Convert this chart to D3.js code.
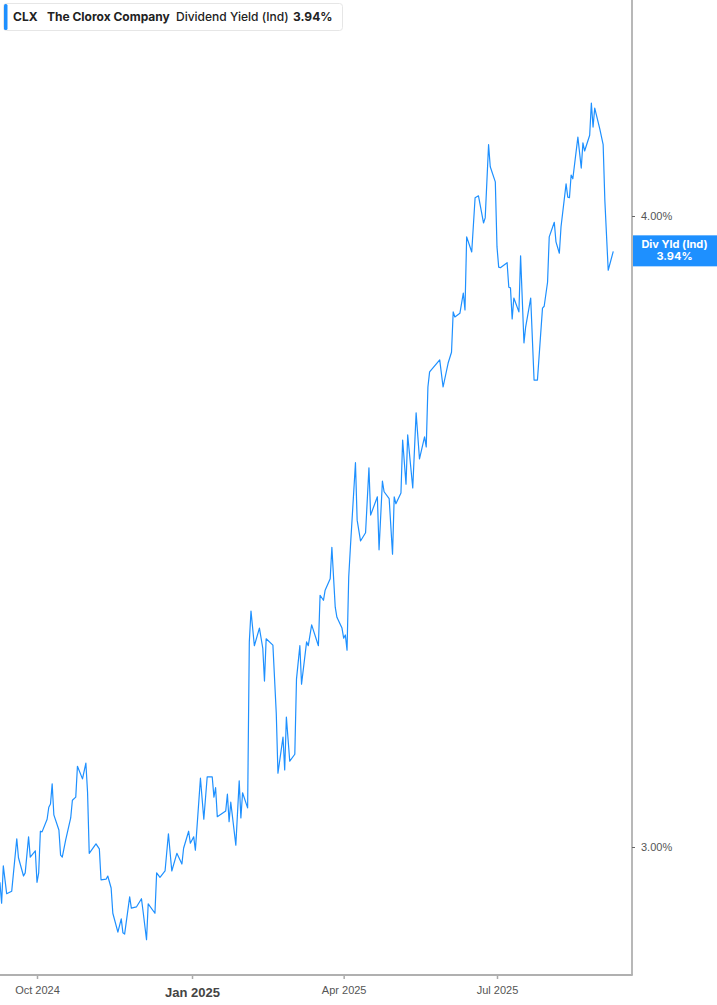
<!DOCTYPE html>
<html>
<head>
<meta charset="utf-8">
<script src="https://cdn.jsdelivr.net/npm/d3@7"></script>
<style>
  html, body { margin: 0; padding: 0; background: #fff; }
  svg { display: block; font-family: Inter, "Noto Sans", sans-serif; }
</style>
</head>
<body>
<div id="chart-container"></div>
<script>
// Dividend yield (Ind), CLX, daily closes
const dates = [
  "2024-09-09","2024-09-10","2024-09-11","2024-09-13","2024-09-16","2024-09-19","2024-09-20","2024-09-23","2024-09-24","2024-09-26","2024-09-27","2024-09-30",
  "2024-10-01","2024-10-02","2024-10-03","2024-10-04","2024-10-07","2024-10-08","2024-10-09","2024-10-10","2024-10-11","2024-10-14","2024-10-15","2024-10-16",
  "2024-10-18","2024-10-21","2024-10-22","2024-10-24","2024-10-25","2024-10-28","2024-10-30","2024-10-31","2024-11-01","2024-11-05","2024-11-07","2024-11-08",
  "2024-11-11","2024-11-12","2024-11-14","2024-11-15","2024-11-18","2024-11-20","2024-11-21","2024-11-22","2024-11-25","2024-11-26","2024-11-29","2024-12-02",
  "2024-12-03","2024-12-05","2024-12-06","2024-12-10","2024-12-11","2024-12-13","2024-12-16","2024-12-18","2024-12-20","2024-12-23","2024-12-26","2024-12-27",
  "2024-12-30","2024-12-31","2025-01-02","2025-01-03","2025-01-06","2025-01-08","2025-01-10","2025-01-13","2025-01-14","2025-01-15","2025-01-16","2025-01-21",
  "2025-01-22","2025-01-23","2025-01-24","2025-01-27","2025-01-29","2025-01-30","2025-01-31","2025-02-03","2025-02-04","2025-02-05","2025-02-07","2025-02-10",
  "2025-02-12","2025-02-13","2025-02-14","2025-02-18","2025-02-20","2025-02-21","2025-02-24","2025-02-25","2025-02-26","2025-02-28","2025-03-03","2025-03-04",
  "2025-03-06","2025-03-07","2025-03-10","2025-03-11","2025-03-13","2025-03-17","2025-03-18","2025-03-20","2025-03-21","2025-03-24","2025-03-25","2025-03-27",
  "2025-03-28","2025-03-31","2025-04-01","2025-04-02","2025-04-03","2025-04-04","2025-04-05","2025-04-08","2025-04-09","2025-04-11","2025-04-14","2025-04-16",
  "2025-04-17","2025-04-21","2025-04-22","2025-04-24","2025-04-25","2025-04-28","2025-04-30","2025-05-01","2025-05-02","2025-05-05","2025-05-06","2025-05-08",
  "2025-05-09","2025-05-12","2025-05-14","2025-05-16","2025-05-19","2025-05-20","2025-05-21","2025-05-22","2025-05-28","2025-05-30","2025-06-02","2025-06-04",
  "2025-06-05","2025-06-06","2025-06-09","2025-06-11","2025-06-12","2025-06-13","2025-06-16","2025-06-18","2025-06-20","2025-06-23","2025-06-24","2025-06-26",
  "2025-06-27","2025-06-30","2025-07-01","2025-07-02","2025-07-03","2025-07-07","2025-07-08","2025-07-09","2025-07-10","2025-07-11","2025-07-14","2025-07-15",
  "2025-07-17","2025-07-18","2025-07-21","2025-07-23","2025-07-25","2025-07-28","2025-07-29","2025-07-31","2025-08-01","2025-08-04","2025-08-05","2025-08-07",
  "2025-08-08","2025-08-11","2025-08-12","2025-08-13","2025-08-14","2025-08-15","2025-08-18","2025-08-20","2025-08-21","2025-08-22","2025-08-25","2025-08-26",
  "2025-08-27","2025-08-28","2025-08-31","2025-09-02","2025-09-03","2025-09-05","2025-09-08"
];

const yieldValues = [
  2.944,2.911,2.970,2.926,2.930,3.013,2.983,2.954,2.959,3.016,2.984,2.994,
  2.944,2.959,3.025,3.024,3.044,3.063,3.068,3.100,3.051,3.027,2.987,2.984,
  3.011,3.046,3.074,3.079,3.128,3.108,3.133,3.087,2.990,3.005,2.997,2.948,
  2.949,2.954,2.935,2.895,2.865,2.886,2.864,2.862,2.921,2.903,2.905,2.918,
  2.897,2.853,2.910,2.895,2.959,2.952,2.962,3.021,2.962,2.990,2.973,2.998,
  3.025,3.006,3.016,2.995,3.109,3.044,3.111,3.111,3.079,3.094,3.048,3.057,
  3.084,3.040,3.071,3.003,3.105,3.046,3.086,3.062,3.325,3.374,3.319,3.347,
  3.315,3.263,3.330,3.320,3.212,3.117,3.174,3.122,3.206,3.136,3.147,3.266,
  3.319,3.258,3.325,3.319,3.352,3.319,3.399,3.391,3.407,3.425,3.475,3.380,
  3.364,3.347,3.331,3.336,3.312,3.428,3.475,3.609,3.518,3.485,3.498,3.601,
  3.526,3.555,3.471,3.580,3.563,3.552,3.464,3.555,3.544,3.561,3.645,3.575,
  3.653,3.569,3.688,3.615,3.650,3.634,3.729,3.753,3.772,3.729,3.767,3.784,
  3.848,3.840,3.846,3.878,3.851,3.967,3.943,4.029,4.032,3.989,3.997,4.113,
  4.078,4.054,3.951,3.919,3.918,3.926,3.887,3.886,3.837,3.870,3.848,3.937,
  3.799,3.824,3.870,3.740,3.740,3.854,3.857,3.895,3.967,3.990,3.959,3.941,
  3.983,4.051,4.030,4.029,4.065,4.059,4.125,4.076,4.116,4.103,4.128,4.179,
  4.141,4.171,4.138,4.113,4.025,3.914,3.944
];

const xTickDates = ["2024-10-01", "2025-01-01", "2025-04-01", "2025-07-01"];
const xTickLabels = ["Oct 2024", "Jan 2025", "Apr 2025", "Jul 2025"];
const yTicks = [3, 4];

const ticker = "CLX";
const company = "The Clorox Company";
const metric = "Dividend Yield (Ind)";
const lastLabel = "Div Yld (Ind)";
const lastValue = yieldValues[yieldValues.length - 1];

// Dimensions
const width = 717;
const height = 1005;
const plotRight = 632;
const plotBottom = 975;
const blue = "#1e90ff";

const parse = d3.timeParse("%Y-%m-%d");
const data = dates.map((d, i) => ({ date: parse(d), value: yieldValues[i] }));

const svg = d3.select("#chart-container")
  .append("svg")
    .attr("width", width)
    .attr("height", height);

// Scales
const xScale = d3.scaleTime()
  .domain([parse("2024-10-01"), parse("2025-07-01")])
  .range([37, 497]);

const yScale = d3.scaleLinear()
  .domain([3, 4])
  .range([847, 216]);

// Clip for the plot area
svg.append("clipPath")
    .attr("id", "plot-clip")
  .append("rect")
    .attr("x", 0)
    .attr("y", 0)
    .attr("width", plotRight)
    .attr("height", plotBottom);

// Line
const line = d3.line()
  .x(d => xScale(d.date))
  .y(d => yScale(d.value));

svg.append("path")
  .datum(data)
  .attr("clip-path", "url(#plot-clip)")
  .attr("fill", "none")
  .attr("stroke", blue)
  .attr("stroke-width", 1.2)
  .attr("stroke-linejoin", "round")
  .attr("d", line);

// Right axis
svg.append("line")
  .attr("x1", plotRight).attr("x2", plotRight)
  .attr("y1", 0).attr("y2", plotBottom)
  .attr("stroke", "#a0a0a0")
  .attr("stroke-width", 1.5);

const yAxis = svg.append("g")
  .attr("class", "y-axis")
  .attr("transform", `translate(${plotRight},0)`)
  .call(d3.axisRight(yScale)
    .tickValues(yTicks)
    .tickSize(3)
    .tickPadding(6)
    .tickFormat(d => d.toFixed(2) + "%"));

yAxis.select(".domain").remove();
yAxis.selectAll(".tick line").attr("stroke", "#666");
yAxis.selectAll(".tick text")
  .attr("fill", "#555")
  .style("font-size", "11px");

// Bottom axis
const xAxis = svg.append("g")
  .attr("class", "x-axis")
  .attr("transform", `translate(0,${plotBottom})`)
  .call(d3.axisBottom(xScale)
    .tickValues(xTickDates.map(parse))
    .tickSize(4)
    .tickPadding(7)
    .tickFormat((d, i) => xTickLabels[i]));

xAxis.select(".domain").remove();
xAxis.selectAll(".tick line").attr("stroke", "#aaa").attr("stroke-width", 1.5);
xAxis.selectAll(".tick text")
  .attr("fill", "#555")
  .style("font-size", "11px")
  .style("font-weight", 500);

xAxis.selectAll(".tick text")
  .filter((d, i) => xTickLabels[i].startsWith("Jan"))
  .attr("dy", "0.85em")
  .attr("fill", "#444")
  .style("font-size", "13px")
  .style("font-weight", 700);

svg.append("line")
  .attr("x1", 0).attr("x2", plotRight + 0.75)
  .attr("y1", plotBottom).attr("y2", plotBottom)
  .attr("stroke", "#b0b0b0")
  .attr("stroke-width", 2);

// Last value flag on the right axis
const flagY = yScale(lastValue);
svg.append("rect")
  .attr("x", plotRight + 1)
  .attr("y", flagY - 16)
  .attr("width", width - plotRight - 1)
  .attr("height", 31)
  .attr("fill", blue);

svg.append("text")
  .attr("x", (plotRight + width) / 2)
  .attr("y", flagY - 3)
  .attr("text-anchor", "middle")
  .attr("fill", "#fff")
  .style("font-size", "11px")
  .style("font-weight", 700)
  .text(lastLabel);

svg.append("text")
  .attr("x", (plotRight + width) / 2)
  .attr("y", flagY + 9)
  .attr("text-anchor", "middle")
  .attr("fill", "#fff")
  .style("font-size", "11px")
  .style("font-weight", 700)
  .text(lastValue.toFixed(2) + "%");

// Legend box
const legend = svg.append("g").attr("class", "legend");

legend.append("rect")
  .attr("x", 3.5).attr("y", 3.5)
  .attr("width", 339).attr("height", 27)
  .attr("rx", 3)
  .attr("fill", "#fff")
  .attr("stroke", "#e6e6e6");

legend.append("rect")
  .attr("x", 4).attr("y", 4)
  .attr("width", 3.5).attr("height", 26)
  .attr("rx", 1.5)
  .attr("fill", blue);

const legendItems = [
  { text: ticker, x: 13, weight: 700 },
  { text: company, x: 47, weight: 700 },
  { text: metric, x: 176, weight: 500 },
  { text: lastValue.toFixed(2) + "%", x: 293, weight: 700 }
];

legend.selectAll(".legend-text")
  .data(legendItems)
  .enter()
  .append("text")
    .attr("class", "legend-text")
    .attr("x", d => d.x)
    .attr("y", 21)
    .attr("fill", "#222")
    .style("font-size", "12px")
    .style("font-weight", d => d.weight)
    .text(d => d.text);
</script>
</body>
</html>
